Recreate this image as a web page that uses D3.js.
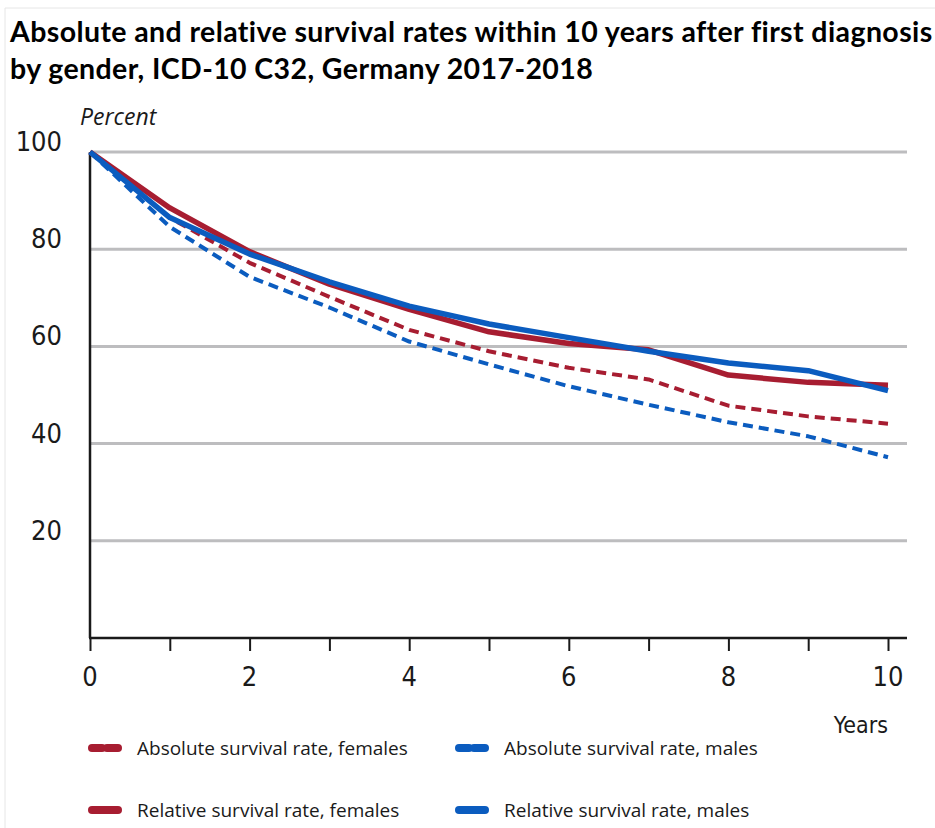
<!DOCTYPE html>
<html lang="en">
<head>
<meta charset="UTF-8">
<title>Survival rates C32</title>
<script src="https://d3js.org/d3.v7.min.js"></script>
<style>
  body { margin: 0; background: #fff; }
  text { fill: #1a1a1a; }
  .title { font-family: Lato, "Open Sans", sans-serif; font-weight: bold; font-size: 28.5px; letter-spacing: 0.4px; fill: #000; }
  .tick-label { font-family: "DejaVu Sans Condensed", "Open Sans", sans-serif; font-stretch: condensed; font-size: 27px; }
  .legend-label { font-family: "Open Sans", sans-serif; font-size: 19px; }
</style>
</head>
<body>
<svg width="935" height="828"></svg>
<script>
// years after diagnosis
const years = [0, 1, 2, 3, 4, 5, 6, 7, 8, 9, 10];

// survival rates in percent
const absFemales = [100, 86.5, 77.2, 70.2, 63.4, 59, 55.6, 53.2, 47.8, 45.6, 44.1];
const absMales   = [100, 84.6, 74.3, 68, 61, 56.3, 51.8, 48, 44.4, 41.5, 37.2];
const relFemales = [100, 88.5, 79.5, 72.8, 67.6, 63, 60.6, 59.3, 54.1, 52.6, 52];
const relMales   = [100, 86.5, 79, 73.3, 68.3, 64.6, 61.8, 59, 56.6, 55, 50.9];

const yTicks = [20, 40, 60, 80, 100];
const xTickLabels = [0, 2, 4, 6, 8, 10];

const red = "#a71d31", blue = "#0b5cbf";

const series = [
  { name: "Absolute survival rate, females", values: absFemales, color: red, dashed: true },
  { name: "Absolute survival rate, males", values: absMales, color: blue, dashed: true },
  { name: "Relative survival rate, females", values: relFemales, color: red, dashed: false },
  { name: "Relative survival rate, males", values: relMales, color: blue, dashed: false }
];

const svg = d3.select("svg");

// faint frame of the original screenshot
svg.append("line").attr("x1", 5).attr("x2", 5).attr("y1", 8).attr("y2", 828)
  .attr("stroke", "#e6e6e6").attr("stroke-width", 1);
svg.append("line").attr("x1", 5).attr("x2", 935).attr("y1", 8).attr("y2", 8)
  .attr("stroke", "#e6e6e6").attr("stroke-width", 1);

// title
svg.append("text").attr("class", "title").attr("x", 10).attr("y", 42)
  .text("Absolute and relative survival rates within 10 years after first diagnosis");
svg.append("text").attr("class", "title").attr("x", 10).attr("y", 79)
  .text("by gender, ICD-10 C32, Germany 2017-2018");

const x = d3.scaleLinear().domain([0, 10]).range([90, 888]);
const y = d3.scaleLinear().domain([0, 100]).range([638, 152]);
const gridRight = 907;

// gridlines
svg.append("g").selectAll("line").data(yTicks).enter().append("line")
  .attr("x1", x(0)).attr("x2", gridRight)
  .attr("y1", d => y(d)).attr("y2", d => y(d))
  .attr("stroke", "#bdbdbf").attr("stroke-width", 3);

// y tick labels
svg.append("g").selectAll("text").data(yTicks).enter().append("text")
  .attr("class", "tick-label")
  .attr("x", 62).attr("y", d => y(d) - 1)
  .attr("text-anchor", "end")
  .text(d => d);

svg.append("text")
  .attr("x", 80).attr("y", 125)
  .style("font-family", "'Open Sans', sans-serif")
  .style("font-style", "italic").style("font-size", "23px")
  .text("Percent");

// x axis
const xAxis = d3.axisBottom(x).tickValues(years).tickSize(13).tickFormat("");
const gx = svg.append("g").attr("transform", `translate(0,${y(0)})`).call(xAxis);
gx.select(".domain").remove();
gx.selectAll(".tick line").attr("stroke", "#1a1a1a").attr("stroke-width", 2);
svg.append("line").attr("x1", x(0) - 1).attr("x2", gridRight)
  .attr("y1", y(0)).attr("y2", y(0))
  .attr("stroke", "#1a1a1a").attr("stroke-width", 2.5);

svg.append("g").selectAll("text").data(xTickLabels).enter().append("text")
  .attr("class", "tick-label")
  .attr("x", d => x(d)).attr("y", 686)
  .attr("text-anchor", "middle")
  .text(d => d);

svg.append("text").attr("class", "tick-label")
  .attr("x", 888).attr("y", 733).attr("text-anchor", "end")
  .style("font-size", "23px")
  .text("Years");

// y axis line
svg.append("line").attr("x1", x(0)).attr("x2", x(0))
  .attr("y1", y(100)).attr("y2", y(0))
  .attr("stroke", "#1a1a1a").attr("stroke-width", 2.5);

// lines
const line = d3.line()
  .x((d, i) => x(years[i]))
  .y(d => y(d));

svg.append("g").selectAll("path").data(series).enter().append("path")
  .attr("d", d => line(d.values))
  .attr("fill", "none")
  .attr("stroke", d => d.color)
  .attr("stroke-width", d => d.dashed ? 4 : 5.5)
  .attr("stroke-dasharray", d => d.dashed ? "10,6" : null)
  .attr("stroke-linejoin", "round");

// legend
const legendPos = [
  { x: 88, y: 748 }, { x: 455, y: 748 },
  { x: 88, y: 810 }, { x: 455, y: 810 }
];
const legend = svg.append("g").selectAll("g").data(series).enter().append("g")
  .attr("transform", (d, i) => `translate(${legendPos[i].x},${legendPos[i].y})`);

legend.each(function(d) {
  const g = d3.select(this);
  if (d.dashed) {
    g.append("line").attr("x1", 4).attr("x2", 14).attr("y1", 0).attr("y2", 0);
    g.append("line").attr("x1", 19).attr("x2", 30).attr("y1", 0).attr("y2", 0);
  } else {
    g.append("line").attr("x1", 4).attr("x2", 30).attr("y1", 0).attr("y2", 0);
  }
  g.selectAll("line").attr("stroke", d.color).attr("stroke-width", 8)
    .attr("stroke-linecap", "round");
  g.append("text").attr("class", "legend-label")
    .attr("x", 49).attr("y", 7)
    .text(d.name);
});
</script>
</body>
</html>
